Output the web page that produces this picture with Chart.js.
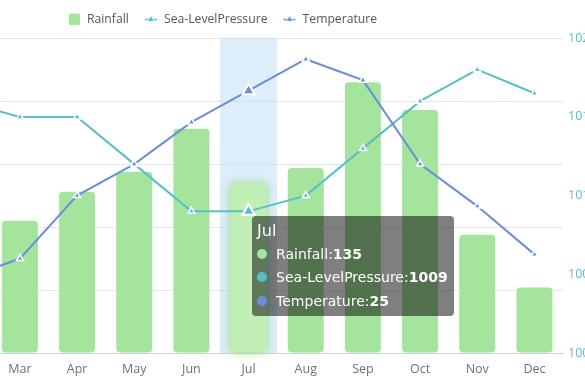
<!DOCTYPE html>
<html><head><meta charset="utf-8">
<script src="https://cdn.jsdelivr.net/npm/chart.js@4/dist/chart.umd.min.js"></script>
<style>
html,body{margin:0;padding:0;width:585px;height:381px;overflow:hidden;background:#fff;}
#wrap{position:absolute;left:-161px;top:0;width:764px;height:381px;}
#c{display:block;}
#tip{position:absolute;background:rgba(0,0,0,0.5);color:#fff;border-radius:4px;padding:3px 6px 3px 5px;font-family:"DejaVu Sans";font-size:14px;line-height:23.5px;white-space:nowrap;pointer-events:none;}
#tip .ttl{font-size:16px;}
#tip .dot{display:inline-block;width:10px;height:10px;border-radius:50%;margin-right:9px;vertical-align:middle;position:relative;top:-1px;}
#tip b{font-weight:bold;}
</style></head>
<body>
<div id="wrap"><canvas id="c" width="764" height="381"></canvas><div id="tip"></div></div>
<script>
// ---- data ----
const months = ['Jan','Feb','Mar','Apr','May','Jun','Jul','Aug','Sep','Oct','Nov','Dec'];
const rainfall = [70, 85, 105, 128, 144, 178, 135, 147, 215, 193, 94, 52];
const pressure = [1017, 1016, 1015, 1015, 1012, 1009, 1009, 1010, 1013, 1016, 1018, 1016.5];
const temperature = [5, 7, 9, 15, 18, 22, 25, 28, 26, 18, 14, 9.4];
const seriesNames = ['Rainfall', 'Sea-LevelPressure', 'Temperature'];
const rainfallAxis = {min: 0, max: 250, step: 50};
const pressureAxis = {min: 1000, max: 1020, step: 5};
const temperatureAxis = {min: 0, max: 30};
const activeIndex = 6;

const colors = {rain: '#A5E49D', rainHover: '#C1EFB6', pres: '#58BFCA', temp: '#6A8FD8'};

function legendIcon(kind, color) {
  const c = document.createElement('canvas');
  c.width = 16; c.height = 12;
  const g = c.getContext('2d');
  if (kind === 'rect') {
    g.fillStyle = color;
    g.beginPath();
    g.roundRect ? g.roundRect(4, 0.5, 11, 11.5, 1.5) : g.rect(4, 0.5, 11, 11.5);
    g.fill();
  } else {
    g.strokeStyle = color; g.lineWidth = 1.5;
    g.beginPath(); g.moveTo(3, 6.5); g.lineTo(15, 6.5); g.stroke();
    g.fillStyle = '#fff';
    g.beginPath(); g.moveTo(9, 1.5); g.lineTo(13, 8.5); g.lineTo(5, 8.5); g.closePath(); g.fill();
    g.fillStyle = color;
    g.beginPath(); g.moveTo(9, 3); g.lineTo(11.8, 8); g.lineTo(6.2, 8); g.closePath(); g.fill();
  }
  return c;
}
const icons = [legendIcon('rect', colors.rain), legendIcon('line', colors.pres), legendIcon('line', colors.temp)];

const bandPlugin = {
  id: 'band',
  beforeDatasetsDraw(chart) {
    const {ctx, chartArea: a, scales: {x}} = chart;
    const w = x.getPixelForValue(1) - x.getPixelForValue(0);
    const cx = x.getPixelForValue(activeIndex);
    ctx.save();
    ctx.fillStyle = 'rgba(180,215,245,0.45)';
    ctx.fillRect(cx - w / 2, a.top, w, a.bottom - a.top);
    ctx.restore();
  },
  afterDatasetDraw(chart, args) {
    if (args.index !== 0) return;
    const el = args.meta.data[activeIndex];
    const ctx = chart.ctx;
    ctx.save();
    ctx.shadowColor = 'rgba(140,215,130,0.9)';
    ctx.shadowBlur = 8;
    el.draw(ctx);
    ctx.restore();
  }
};

const lineCommon = {
  type: 'line', borderWidth: 2, tension: 0, fill: false,
  pointStyle: 'triangle', pointRadius: 4, pointBorderColor: '#fff', pointBorderWidth: 1.5,
  pointHoverRadius: 7, pointHoverBorderWidth: 2, pointHoverBorderColor: '#fff'
};

const chart = new Chart(document.getElementById('c'), {
  type: 'bar',
  data: {
    labels: months,
    datasets: [
      {label: seriesNames[0], data: rainfall, yAxisID: 'y', order: 3,
       backgroundColor: colors.rain, hoverBackgroundColor: colors.rainHover,
       borderRadius: 4, borderSkipped: false, barPercentage: 0.63, categoryPercentage: 1},
      Object.assign({label: seriesNames[1], data: pressure, yAxisID: 'yP', order: 2,
       borderColor: colors.pres, pointBackgroundColor: colors.pres, pointHoverBackgroundColor: colors.pres}, lineCommon),
      Object.assign({label: seriesNames[2], data: temperature, yAxisID: 'yT', order: 1,
       borderColor: colors.temp, pointBackgroundColor: colors.temp, pointHoverBackgroundColor: colors.temp}, lineCommon)
    ]
  },
  options: {
    responsive: false, animation: false, events: [], devicePixelRatio: 1,
    layout: {padding: {top: 0, bottom: 4, left: 0, right: 0}},
    plugins: {
      tooltip: {enabled: false},
      subtitle: {display: true, text: '', weight: 500, padding: {top: 3, bottom: 0}, font: {size: 1, lineHeight: 0}},
      legend: {
        position: 'top',
        labels: {
          usePointStyle: true, pointStyleWidth: 16, padding: 13,
          color: '#555', font: {family: 'Open Sans', size: 12.2},
          generateLabels(ch) {
            return ch.data.datasets.map((ds, i) => ({
              text: ds.label, pointStyle: icons[i], fillStyle: 'rgba(0,0,0,0)',
              strokeStyle: 'rgba(0,0,0,0)', lineWidth: 0, hidden: false, datasetIndex: i, fontColor: '#555'
            }));
          }
        }
      }
    },
    scales: {
      x: {
        grid: {display: false, drawTicks: false},
        border: {display: true, color: '#d2d2d2', width: 1},
        ticks: {color: '#6E7079', font: {family: 'Open Sans', size: 12.5}, padding: 9, maxRotation: 0, autoSkip: false},
        afterFit(s) { s.height = 24; }
      },
      y: {
        position: 'left', min: rainfallAxis.min, max: rainfallAxis.max,
        ticks: {display: false, stepSize: rainfallAxis.step},
        grid: {color: '#e8e8e8', drawTicks: false},
        border: {display: false},
        afterFit(s) { s.width = 38; }
      },
      yP: {
        position: 'right', min: pressureAxis.min, max: pressureAxis.max,
        ticks: {stepSize: pressureAxis.step, color: colors.pres, padding: 5,
                font: {family: 'Open Sans', size: 12.5}, callback: v => String(v)},
        grid: {display: false, drawTicks: false},
        border: {display: false},
        afterFit(s) { s.width = 40; }
      },
      yT: {display: false, min: temperatureAxis.min, max: temperatureAxis.max}
    }
  },
  plugins: [bandPlugin]
});

chart.setActiveElements([0, 1, 2].map(d => ({datasetIndex: d, index: activeIndex})));
chart.update();

const tip = document.getElementById('tip');
const vals = [rainfall, pressure, temperature];
const dotColors = [colors.rain, colors.pres, colors.temp];
let html = '<div class="ttl">' + months[activeIndex] + '</div>';
seriesNames.forEach((n, i) => {
  html += '<div><span class="dot" style="background:' + dotColors[i] + '"></span>' + n + ':<b>' + vals[i][activeIndex] + '</b></div>';
});
tip.innerHTML = html;
tip.style.left = (chart.scales.x.getPixelForValue(activeIndex) + 3.5) + 'px';
tip.style.top = (chart.scales.yP.getPixelForValue(pressure[activeIndex]) + 5) + 'px';
</script>
</body></html>
